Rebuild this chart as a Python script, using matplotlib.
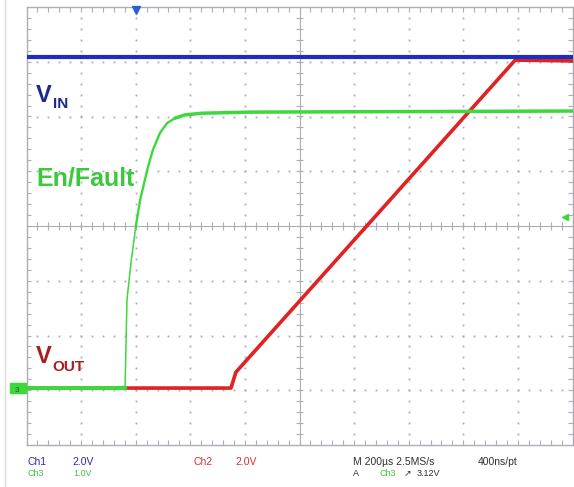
import matplotlib
matplotlib.use('Agg')
import matplotlib.pyplot as plt
import numpy as np
from matplotlib.patches import Rectangle
from matplotlib.lines import Line2D

# ---------------- data (time in us relative to trigger, volts) ----------------
vin_t = [-400, 1600]
vin_v = [12.0, 12.0]

en_t = [-400, -39, -32, -17, 0, 16, 45, 63, 89, 115, 144, 181, 243, 419, 1600]
en_v = [0.0, 0.0, 1.61, 2.30, 2.94, 3.43, 4.04, 4.35, 4.66, 4.84, 4.93, 4.99, 5.02, 5.04, 5.06]

vout_t = [-400, 349, 367, 1390, 1600]
vout_v = [0.0, 0.0, 0.58, 11.98, 11.95]

trig_level = 3.12

# scope settings: volts/div, ground position (div), time/div
ch1_scale, ch1_pos = 2.0, 1.08
ch2_scale, ch2_pos = 2.0, 1.04
ch3_scale, ch3_pos = 1.0, 1.04
t_div, t_left = 200.0, -400.0

# ---------------- figure ----------------
W, H = 574, 487
fig = plt.figure(figsize=(W / 100, H / 100), dpi=100)
fig.patch.set_facecolor('white')
L, R, T, B = 26.5, 572.5, 7, 445
ax = fig.add_axes([L / W, 1 - B / H, (R - L) / W, (B - T) / H])
ax.set_xlim(0, 10)
ax.set_ylim(0, 8)
ax.axis('off')


def tx(t):
    return (np.asarray(t, float) - t_left) / t_div


def vy(v, scale, pos):
    return pos + np.asarray(v, float) / scale


# graticule
gc = '#adadb5'
ys = np.arange(0.2, 8.0, 0.2)
xs = np.arange(0.2, 10.0, 0.2)
for i in range(1, 10):
    if i == 5:
        continue
    ax.plot(np.full_like(ys, i), ys, ls='none', marker='s', ms=1.3, mew=0, color=gc)
for j in range(1, 8):
    if j == 4:
        continue
    ax.plot(xs, np.full_like(xs, j), ls='none', marker='s', ms=1.3, mew=0, color=gc)
ax.plot([0, 10], [4, 4], color=gc, lw=0.8)
ax.plot([5, 5], [0, 8], color=gc, lw=0.8)
ax.vlines(xs, 4 - 0.07, 4 + 0.07, color=gc, lw=0.8)
ax.hlines(ys, 5 - 0.07, 5 + 0.07, color=gc, lw=0.8)
for x0 in (0, 10):
    ax.plot([x0, x0], [0, 8], color=gc, lw=1.0, clip_on=False)
for y0 in (0, 8):
    ax.plot([0, 10], [y0, y0], color=gc, lw=1.0, clip_on=False)
ax.vlines(xs, 0, 0.09, color=gc, lw=0.8)
ax.vlines(xs, 8 - 0.09, 8, color=gc, lw=0.8)
ax.hlines(ys, 0, 0.09, color=gc, lw=0.8)
ax.hlines(ys, 10 - 0.09, 10, color=gc, lw=0.8)

# traces
red = '#e02222'
green = '#3cd83c'
blue = '#1c2cc4'
ax.plot(tx(vout_t), vy(vout_v, ch2_scale, ch2_pos), color=red, lw=2.6,
        solid_joinstyle='round', zorder=3)
gx = tx(en_t)
gy = vy(en_v, ch3_scale, ch3_pos)
ax.plot(gx[:2], gy[:2], color=green, lw=2.8, zorder=4)
ax.plot(gx[1:5], gy[1:5], color=green, lw=1.1, zorder=4)
ax.plot(gx[4:11], gy[4:11], color=green, lw=1.7, solid_joinstyle='round',
        solid_capstyle='round', zorder=4)
ax.plot(gx[10:], gy[10:], color=green, lw=2.5, solid_joinstyle='round',
        solid_capstyle='round', zorder=4)
ax.plot(tx(vin_t), vy(vin_v, ch1_scale, ch1_pos), color=blue, lw=3.0, zorder=5)

# markers
ax.plot(tx(0), 7.95, marker='v', ms=6, color='#2a5fd0', clip_on=False, zorder=6)
ax.plot(9.87, vy(trig_level, ch3_scale, ch3_pos), marker='<', ms=5, color=green,
        clip_on=False, zorder=6)


def px(x, y):
    return x / W, 1 - y / H


# left faint border
fig.add_artist(Line2D([4.5 / W, 4.5 / W], [0, 1], color='#dcdcdc', lw=1.0))
# ch3 ground marker
fig.add_artist(Rectangle(px(10, 393), 16.5 / W, 10 / H, color=green, transform=fig.transFigure))
fig.text(*px(15, 392), '3', fontsize=6, color='#206020', family='Liberation Sans')

# trace labels
bold = dict(family='Liberation Sans', weight='bold', va='baseline')
fig.text(*px(35.5, 102), 'V', fontsize=17, color='#1b2a8c', **bold)
fig.text(*px(53, 107.5), 'IN', fontsize=11, color='#1b2a8c', **bold)
fig.text(*px(36, 185), 'En/Fault', fontsize=18, color='#3cc83c', **bold)
fig.text(*px(35.5, 363), 'V', fontsize=17, color='#a81e1e', **bold)
fig.text(*px(52, 371), 'OUT', fontsize=11, color='#a81e1e', **bold)

# status line
small = dict(family='Liberation Sans', va='baseline')
fig.text(*px(27, 465), 'Ch1', fontsize=7.5, color='#2a2ab0', **small)
fig.text(*px(72, 465), '2.0V', fontsize=7.5, color='#2a2ab0', **small)
fig.text(*px(27, 476), 'Ch3', fontsize=6.5, color='#40c040', **small)
fig.text(*px(73, 476), '1.0V', fontsize=6.5, color='#40c040', **small)
fig.text(*px(193, 465), 'Ch2', fontsize=7.5, color='#d83030', **small)
fig.text(*px(235, 465), '2.0V', fontsize=7.5, color='#d83030', **small)
fig.text(*px(353, 465), 'M 200\u00b5s 2.5MS/s', fontsize=7.5, color='#303030', **small)
fig.text(*px(478, 465), '400ns/pt', fontsize=7.5, color='#303030', **small)
fig.text(*px(353, 476), 'A', fontsize=6.5, color='#303030', **small)
fig.text(*px(380, 476), 'Ch3', fontsize=6.5, color='#40c040', **small)
fig.text(*px(404, 476), '\u2197', fontsize=6.5, color='#303030', family='DejaVu Sans', va='baseline')
fig.text(*px(417, 476), '3.12V', fontsize=6.5, color='#303030', **small)

fig.savefig('out.png', dpi=100, facecolor='white')
